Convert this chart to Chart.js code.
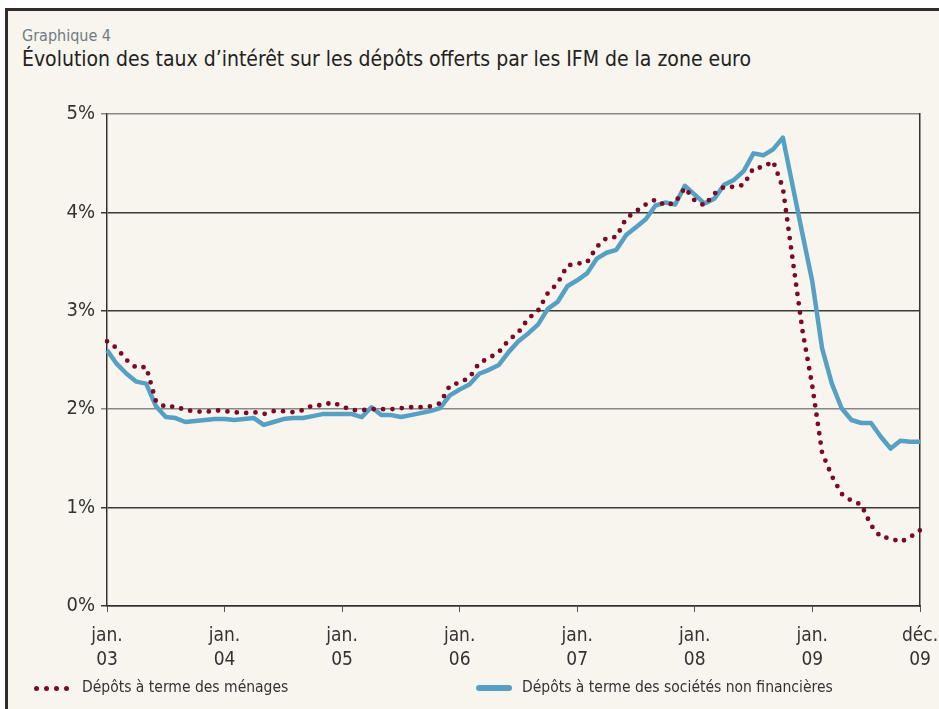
<!DOCTYPE html>
<html lang="fr">
<head>
<meta charset="utf-8">
<script src="https://cdn.jsdelivr.net/npm/chart.js@4.4.1/dist/chart.umd.min.js"></script>
<style>
    body { margin: 0; background: #ffffff; width: 939px; height: 709px; overflow: hidden; position: relative;
           font-family: 'DejaVu Sans Condensed', sans-serif; }
    #frame { position: absolute; left: 5px; top: 8px; width: 960px; height: 720px; background: #f8f5ee;
             border-left: 3px solid #2e2e2e; border-top: 3px solid #2e2e2e; }
    #surtitre { position: absolute; left: 22px; top: 26px; font-size: 16px; color: #6f7c82; }
    #titre { position: absolute; left: 22px; top: 47px; font-size: 21px; color: #222; }
    #resultPlot { position: absolute; left: 0; top: 0; }
    .legend-item { position: absolute; top: 678px; font-size: 15.5px; color: #333; white-space: nowrap; }
    .dot { position: absolute; top: 8px; width: 5px; height: 5px; border-radius: 50%; background: #7a0a26; }
    .bar { position: absolute; top: 7px; width: 36px; height: 6px; border-radius: 3px; background: #55a0c3; }
</style>
</head>
<body>
<div id="frame"></div>
<div id="surtitre">Graphique 4</div>
<div id="titre">Évolution des taux d’intérêt sur les dépôts offerts par les IFM de la zone euro</div>
<canvas id="resultPlot" width="939" height="709"></canvas>
<div class="legend-item" style="left:34px;">
    <span class="dot" style="left:0px"></span><span class="dot" style="left:10px"></span>
    <span class="dot" style="left:20px"></span><span class="dot" style="left:30px"></span>
    <span style="margin-left:48px">Dépôts à terme des ménages</span>
</div>
<div class="legend-item" style="left:476px;">
    <span class="bar" style="left:0px"></span>
    <span style="margin-left:46px">Dépôts à terme des sociétés non financières</span>
</div>
<script>
// monthly data, jan. 2003 -> déc. 2009 (%)
const years = ['03', '04', '05', '06', '07', '08', '09'];
const tickIndex = [0, 12, 24, 36, 48, 60, 72, 83];
const tickLabels = [['jan.', '03'], ['jan.', '04'], ['jan.', '05'], ['jan.', '06'],
                    ['jan.', '07'], ['jan.', '08'], ['jan.', '09'], ['déc.', '09']];
const yTicks = [0, 1, 2, 3, 4, 5];

const menages = [
    2.69, 2.62, 2.50, 2.42, 2.43, 2.08, 2.02, 2.03, 1.99, 1.98, 1.97, 1.99,
    1.98, 1.97, 1.96, 1.97, 1.95, 1.98, 1.98, 1.97, 1.99, 2.04, 2.04, 2.07,
    2.03, 1.99, 1.99, 2.00, 2.00, 2.00, 2.01, 2.02, 2.02, 2.03, 2.06, 2.24,
    2.27, 2.32, 2.47, 2.52, 2.58, 2.70, 2.78, 2.92, 3.00, 3.18, 3.28, 3.46,
    3.48, 3.49, 3.65, 3.74, 3.75, 3.94, 4.01, 4.08, 4.13, 4.07, 4.10, 4.25,
    4.12, 4.07, 4.19, 4.26, 4.26, 4.28, 4.45, 4.46, 4.52, 4.25, 3.52, 2.80,
    2.24, 1.56, 1.32, 1.14, 1.07, 1.03, 0.82, 0.70, 0.69, 0.65, 0.70, 0.77
];
const societes = [
    2.60, 2.46, 2.36, 2.28, 2.26, 2.03, 1.92, 1.91, 1.87, 1.88, 1.89, 1.90,
    1.90, 1.89, 1.90, 1.91, 1.84, 1.87, 1.90, 1.91, 1.91, 1.93, 1.95, 1.95,
    1.95, 1.95, 1.92, 2.02, 1.94, 1.94, 1.92, 1.94, 1.96, 1.98, 2.01, 2.14,
    2.20, 2.25, 2.36, 2.40, 2.45, 2.58, 2.69, 2.77, 2.86, 3.02, 3.09, 3.25,
    3.31, 3.38, 3.53, 3.59, 3.62, 3.77, 3.85, 3.93, 4.07, 4.10, 4.08, 4.27,
    4.18, 4.09, 4.14, 4.28, 4.33, 4.42, 4.60, 4.58, 4.64, 4.76, 4.27, 3.78,
    3.30, 2.62, 2.26, 2.01, 1.89, 1.86, 1.86, 1.72, 1.60, 1.68, 1.67, 1.67
];

const fontName = "'DejaVu Sans Condensed', sans-serif";

draw();

/**
 * Draw the line chart
 */
function draw(){
    let labels = [];
    for (let y = 0; y < years.length; y++){
        for (let m = 1; m <= 12; m++){
            labels.push(years[y] + '-' + m);
        }
    }

    let chartObject = {};
    chartObject['type'] = 'line';
    chartObject['data'] = {
        labels: labels,
        datasets: [
            {
                label: 'Dépôts à terme des ménages',
                data: menages,
                borderColor: '#7a0a26',
                borderWidth: 4.8,
                borderDash: [0, 9.4],
                borderCapStyle: 'round',
                pointRadius: 0,
                tension: 0
            },
            {
                label: 'Dépôts à terme des sociétés non financières',
                data: societes,
                borderColor: '#55a0c3',
                borderWidth: 4.5,
                borderJoinStyle: 'round',
                pointRadius: 0,
                tension: 0
            }
        ]
    };
    chartObject['options'] = {
        responsive: false,
        animation: false,
        layout: {padding: {left: 0, top: 114, right: 19, bottom: 40}},
        plugins: {legend: {display: false}, tooltip: {enabled: false}},
        scales: {
            x: {
                ticks: {
                    autoSkip: false,
                    maxRotation: 0,
                    padding: 12,
                    color: '#333',
                    font: {family: fontName, size: 19, lineHeight: 1.25},
                    callback: function(value, index){
                        let k = tickIndex.indexOf(index);
                        return k >= 0 ? tickLabels[k] : null;
                    }
                },
                grid: {drawOnChartArea: false, drawTicks: true, tickLength: 6, color: '#555'},
                border: {color: '#333', width: 1.5},
                afterFit: function(s){ s.height = 63; s.paddingLeft = 0; s.paddingRight = 0; }
            },
            y: {
                min: 0,
                max: 5,
                afterBuildTicks: function(s){ s.ticks = yTicks.map(function(v){ return {value: v}; }); },
                ticks: {
                    padding: 6,
                    color: '#333',
                    font: {family: fontName, size: 20},
                    callback: function(v){ return v + '%'; }
                },
                grid: {
                    tickLength: 6,
                    lineWidth: 1.5,
                    color: function(ctx){
                        let v = ctx.tick ? ctx.tick.value : 0;
                        return (v === 2 || v === 5) ? '#8a8886' : '#3a3a3a';
                    }
                },
                border: {color: '#333', width: 1.5},
                afterFit: function(s){ s.width = 107; s.paddingTop = 0; s.paddingBottom = 0; }
            },
            y2: {
                position: 'right',
                min: 0,
                max: 5,
                ticks: {display: false},
                grid: {display: false},
                border: {display: true, color: '#333', width: 1.5},
                afterFit: function(s){ s.width = 0; }
            }
        }
    };

    let plotArea = document.getElementById('resultPlot');
    let plot = new Chart(plotArea, chartObject);
}
</script>
</body>
</html>
